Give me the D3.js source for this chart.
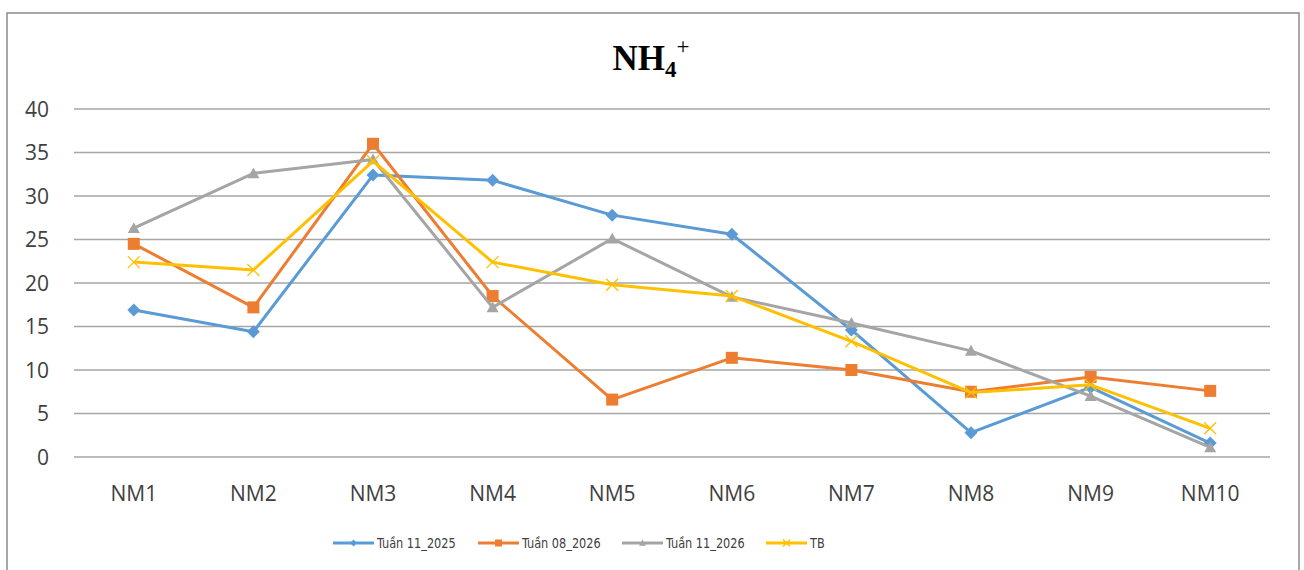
<!DOCTYPE html>
<html>
<head>
<meta charset="UTF-8" />
<title>NH4+</title>
<style>
  body { margin: 0; background: #fff; }
  .grid line { stroke: #a6a6a6; stroke-width: 1.3px; }
  .tick-label { font-family: "Open Sans", Lato, sans-serif; font-size: 21px; fill: #404040; }
  .legend text { font-family: "Liberation Sans Narrow", "DejaVu Sans Condensed", sans-serif; font-size: 14px; fill: #404040; }
</style>
<script src="https://d3js.org/d3.v7.min.js"></script>
</head>
<body>
<script>
var categories = ["NM1","NM2","NM3","NM4","NM5","NM6","NM7","NM8","NM9","NM10"];
var yTicks = [0,5,10,15,20,25,30,35,40];
var tuan11_2025 = [16.9,14.4,32.4,31.8,27.8,25.6,14.6,2.8,8.0,1.6];
var tuan08_2026 = [24.5,17.2,36.0,18.5,6.6,11.4,10.0,7.5,9.2,7.6];
var tuan11_2026 = [26.3,32.6,34.2,17.2,25.1,18.4,15.4,12.2,7.0,1.1];
var tb = [22.4,21.5,34.0,22.4,19.8,18.5,13.3,7.4,8.3,3.3];

var series = [
  {name: "Tuần 11_2025", values: tuan11_2025, color: "#5b9bd5", marker: "diamond"},
  {name: "Tuần 08_2026", values: tuan08_2026, color: "#ed7d31", marker: "square"},
  {name: "Tuần 11_2026", values: tuan11_2026, color: "#a5a5a5", marker: "triangle"},
  {name: "TB", values: tb, color: "#ffc000", marker: "x"}
];

var width = 1304, height = 570;
var svg = d3.select("body").append("svg")
  .attr("width", width).attr("height", height);

// chart frame
svg.append("rect")
  .attr("x", 7).attr("y", 13).attr("width", 1292).attr("height", 600)
  .attr("fill", "#fff").attr("stroke", "#8c8c8c").attr("stroke-width", 1.5);

// title
var title = svg.append("text")
  .attr("x", 651).attr("y", 70)
  .attr("text-anchor", "middle")
  .style("font-family", "'Liberation Serif', 'Times New Roman', serif")
  .style("font-weight", "bold")
  .style("font-size", "35px")
  .style("fill", "#000");
title.append("tspan").text("NH");
title.append("tspan").attr("dy", 7).style("font-size", "23px").text("4");
title.append("tspan").attr("dy", -23).style("font-size", "23px").style("font-weight", "normal").text("+");

var x = d3.scaleBand().domain(categories).range([74, 1270]);
var y = d3.scaleLinear().domain([0, 40]).range([457, 109]);

var grid = svg.append("g").attr("class", "grid");
grid.selectAll("line").data(yTicks).enter().append("line")
  .attr("x1", 74).attr("x2", 1270)
  .attr("y1", function(d) { return y(d); })
  .attr("y2", function(d) { return y(d); });

svg.selectAll(".ylab").data(yTicks).enter().append("text")
  .attr("class", "tick-label")
  .attr("x", 49).attr("y", function(d) { return y(d) + 7.5; })
  .attr("text-anchor", "end")
  .text(function(d) { return d; });

svg.selectAll(".xlab").data(categories).enter().append("text")
  .attr("class", "tick-label")
  .attr("x", function(d) { return x(d) + x.bandwidth() / 2; })
  .attr("y", 501)
  .attr("text-anchor", "middle")
  .text(function(d) { return d; });

var cx = function(i) { return x(categories[i]) + x.bandwidth() / 2; };

var line = d3.line()
  .x(function(d, i) { return cx(i); })
  .y(function(d) { return y(d); });

function drawMarker(g, type, color, px, py, s) {
  if (type === "diamond") {
    g.append("path")
      .attr("d", "M" + px + "," + (py - s) + "L" + (px + s) + "," + py + "L" + px + "," + (py + s) + "L" + (px - s) + "," + py + "Z")
      .attr("fill", color);
  } else if (type === "square") {
    g.append("rect").attr("x", px - s).attr("y", py - s)
      .attr("width", 2 * s).attr("height", 2 * s).attr("fill", color);
  } else if (type === "triangle") {
    g.append("path")
      .attr("d", "M" + px + "," + (py - s) + "L" + (px + s) + "," + (py + s * 0.8) + "L" + (px - s) + "," + (py + s * 0.8) + "Z")
      .attr("fill", color);
  } else {
    g.append("path")
      .attr("d", "M" + (px - s) + "," + (py - s) + "L" + (px + s) + "," + (py + s) + "M" + (px + s) + "," + (py - s) + "L" + (px - s) + "," + (py + s))
      .attr("stroke", color).attr("stroke-width", 1.3).attr("fill", "none");
  }
}

series.forEach(function(s) {
  var g = svg.append("g");
  g.append("path").datum(s.values)
    .attr("d", line)
    .attr("fill", "none")
    .attr("stroke", s.color)
    .attr("stroke-width", 3)
    .attr("stroke-linejoin", "round");
  s.values.forEach(function(v, i) {
    var sz = s.marker === "diamond" ? 6.5 : 6;
    drawMarker(g, s.marker, s.color, cx(i), y(v), sz);
  });
});

// legend
var legendX = [333, 478, 622, 766];
var legend = svg.append("g").attr("class", "legend");
series.forEach(function(s, i) {
  var lx = legendX[i], ly = 543;
  legend.append("line")
    .attr("x1", lx).attr("x2", lx + 41)
    .attr("y1", ly).attr("y2", ly)
    .attr("stroke", s.color).attr("stroke-width", 3);
  drawMarker(legend, s.marker, s.color, lx + 20.5, ly, 3.5);
  legend.append("text")
    .attr("x", lx + 44).attr("y", ly + 5)
    .attr("transform", "translate(" + (lx + 44) + ",0) scale(0.9,1) translate(" + (-(lx + 44)) + ",0)")
    .text(s.name);
});
</script>
</body>
</html>
